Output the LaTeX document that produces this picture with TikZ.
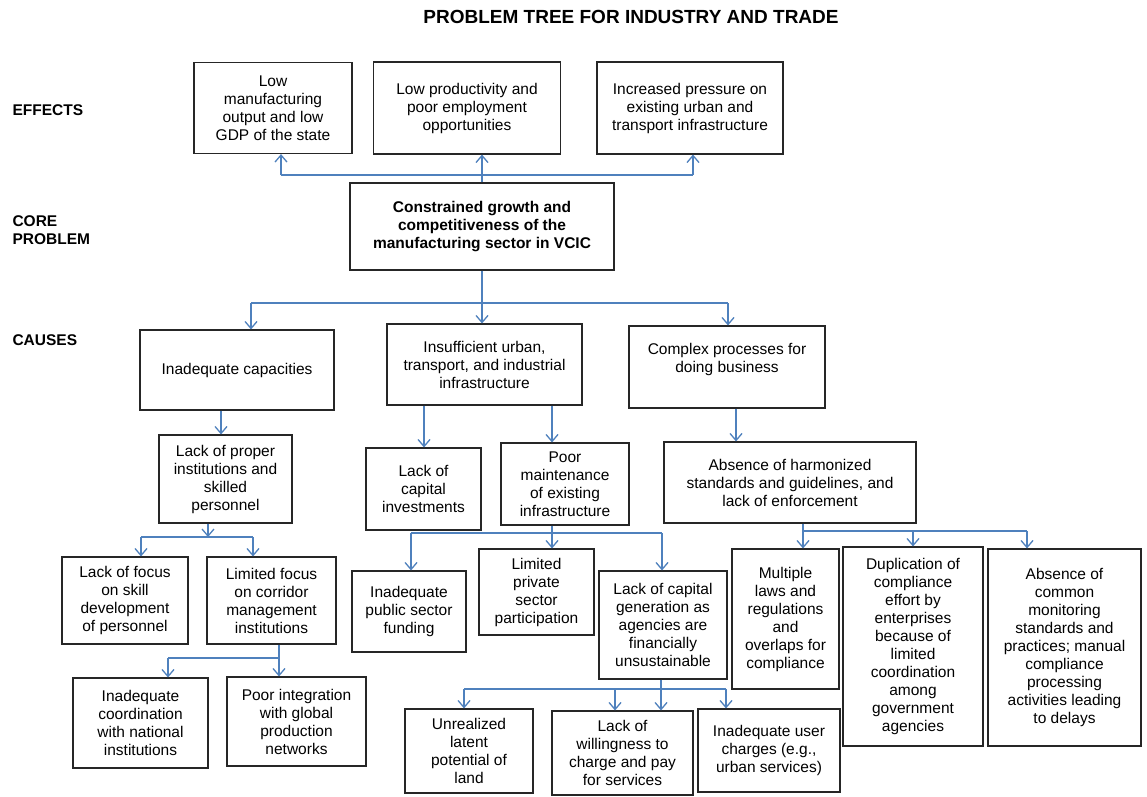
\documentclass[tikz,border=0pt]{standalone}
\usepackage{fontspec}
\setmainfont{Liberation Sans}
\usepackage{xcolor}
\usetikzlibrary{
    positioning,
    arrows.meta
}
\definecolor{linkBlue}{RGB}{79, 129, 189}

\begin{document}
\begin{tikzpicture}[x=1pt, y=-1pt, >={Straight Barb[length=7pt,width=12pt]},
    box/.style={draw=black!85, line width=1.1pt, align=center, inner sep=2pt,
        font=\fontsize{15.5}{18}\selectfont},
    side/.style={anchor=west, align=left, font=\fontsize{15.5}{18}\selectfont\bfseries},
    link/.style={linkBlue, line width=1.3pt},
    arr/.style={->, linkBlue, line width=1.3pt}]
            \useasboundingbox[fill=white] (0,0) rectangle (1147,796);
            
            % Titles
            \node[font=\fontsize{19}{22}\selectfont\bfseries] (title) at (631,17) {PROBLEM TREE FOR INDUSTRY AND TRADE};
            \node[side] (lbEff) at (9,110) {EFFECTS};
            \node[side] (lbCore) at (9,230) {CORE\\PROBLEM};
            \node[side] (lbCau) at (9,340) {CAUSES};
            
            % Effects
            \node[box, minimum width=158, minimum height=91] (e1) at (273,108) {Low\\manufacturing\\output and low\\GDP of the state};
            \node[box, minimum width=187, minimum height=92] (e2) at (467,108) {Low productivity and\\poor employment\\opportunities};
            \node[box, minimum width=186, minimum height=92] (e3) at (690,108) {Increased pressure on\\existing urban and\\transport infrastructure};
            
            % Core problem
            \node[box, minimum width=264, minimum height=87, font=\fontsize{15.5}{18}\selectfont\bfseries] (core) at (482,226.5) {Constrained growth and\\competitiveness of the\\manufacturing sector in VCIC};
            
            % Causes
            \node[box, minimum width=194, minimum height=80] (c1) at (237,370) {Inadequate capacities};
            \node[box, minimum width=195, minimum height=81] (c2) at (484.5,364.5) {Insufficient urban,\\transport, and industrial\\infrastructure};
            \node[box, minimum width=196, minimum height=82] (c3) at (727,367) {Complex processes for\\doing business\\};
            
            \node[box, minimum width=133, minimum height=88] (l1) at (225.5,479) {Lack of proper\\institutions and\\skilled\\personnel};
            \node[box, minimum width=115, minimum height=82] (lci) at (423.5,489) {Lack of\\capital\\investments};
            \node[box, minimum width=128, minimum height=82] (pm) at (565,484) {Poor\\maintenance\\of existing\\infrastructure};
            \node[box, minimum width=252, minimum height=81] (ah) at (790,482.5) {Absence of harmonized\\standards and guidelines, and\\lack of enforcement};
            
            \node[box, minimum width=126, minimum height=87] (lf1) at (125,600.5) {Lack of focus\\on skill\\development\\of personnel};
            \node[box, minimum width=129, minimum height=87] (lf2) at (271.5,600.5) {Limited focus\\on corridor\\management\\institutions};
            \node[box, minimum width=114, minimum height=81] (ipf) at (409,611.5) {Inadequate\\public sector\\funding};
            \node[box, minimum width=115, minimum height=86] (lpp) at (536.5,592) {Limited\\private\\sector\\participation};
            \node[box, minimum width=128, minimum height=108] (lcg) at (663,625) {Lack of capital\\generation as\\agencies are\\financially\\unsustainable};
            \node[box, minimum width=107, minimum height=140] (ml) at (785.5,619) {Multiple\\laws and\\regulations\\and\\overlaps for\\compliance};
            \node[box, minimum width=140, minimum height=199] (dup) at (913,646.5) {Duplication of\\compliance\\effort by\\enterprises\\because of\\limited\\coordination\\among\\government\\agencies};
            \node[box, minimum width=153, minimum height=197] (acm) at (1064.5,647.5) {Absence of\\common\\monitoring\\standards and\\practices; manual\\compliance\\processing\\activities leading\\to delays};
            
            \node[box, minimum width=135, minimum height=90] (ic) at (140.5,723) {Inadequate\\coordination\\with national\\institutions};
            \node[box, minimum width=139, minimum height=89] (pi) at (296.5,721.5) {Poor integration\\with global\\production\\networks};
            \node[box, minimum width=128, minimum height=84] (ul) at (469,751) {Unrealized\\latent\\potential of\\land};
            \node[box, minimum width=141, minimum height=84] (lw) at (622.5,753) {Lack of\\willingness to\\charge and pay\\for services};
            \node[box, minimum width=142, minimum height=83] (iu) at (769,750.5) {Inadequate user\\charges (e.g.,\\urban services)};
            
            % Core to effects
            \coordinate (effL) at (281,175);
            \coordinate (effR) at (693,175);
            \draw[link] (core.north) |- (effL);
            \draw[link] (core.north) |- (effR);
            \draw[arr] (effL) -- (effL |- e1.south);
            \draw[arr] (core.north |- effL) -- (core.north |- e2.south);
            \draw[arr] (effR) -- (effR |- e3.south);
            
            % Core to causes
            \coordinate (cauL) at (251,303);
            \coordinate (cauR) at (728,303);
            \draw[link] (core.south) |- (cauL);
            \draw[link] (core.south) |- (cauR);
            \draw[arr] (cauL) -- (cauL |- c1.north);
            \draw[arr] (core.south |- cauL) -- (core.south |- c2.north);
            \draw[arr] (cauR) -- (cauR |- c3.north);
            
            % Second level
            \coordinate (c1a) at (221,420);
            \coordinate (c2a) at (424,420);
            \coordinate (c2b) at (552,420);
            \coordinate (c3a) at (736,420);
            \draw[arr] (c1a |- c1.south) -- (c1a |- l1.north);
            \draw[arr] (c2a |- c2.south) -- (c2a |- lci.north);
            \draw[arr] (c2b |- c2.south) -- (c2b |- pm.north);
            \draw[arr] (c3a |- c3.south) -- (c3a |- ah.north);
            
            % Capacities branch
            \coordinate (lb) at (208,537);
            \coordinate (lbL) at (141,537);
            \coordinate (lbR) at (253,537);
            \draw[arr] (lb |- l1.south) -- (lb);
            \draw[link] (lbL) -- (lbR);
            \draw[arr] (lbL) -- (lbL |- lf1.north);
            \draw[arr] (lbR) -- (lbR |- lf2.north);
            
            \coordinate (fb) at (279,658);
            \coordinate (fbL) at (168,658);
            \draw[arr] (fb |- lf2.south) -- (fb |- pi.north);
            \draw[link] (fb) -- (fbL);
            \draw[arr] (fbL) -- (fbL |- ic.north);
            
            % Infrastructure branch
            \coordinate (mb) at (552,533);
            \coordinate (mbL) at (411,533);
            \coordinate (mbR) at (662,533);
            \draw[arr] (mb |- pm.south) -- (mb |- lpp.north);
            \draw[link] (mbL) -- (mbR);
            \draw[arr] (mbL) -- (mbL |- ipf.north);
            \draw[arr] (mbR) -- (mbR |- lcg.north);
            
            \coordinate (gb) at (661,689);
            \coordinate (gbL) at (464,689);
            \coordinate (gbM) at (615,689);
            \coordinate (gbR) at (726,689);
            \draw[arr] (gb |- lcg.south) -- (gb |- lw.north);
            \draw[link] (gbL) -- (gbR);
            \draw[arr] (gbL) -- (gbL |- ul.north);
            \draw[arr] (gbM) -- (gbM |- lw.north);
            \draw[arr] (gbR) -- (gbR |- iu.north);
            
            % Business branch
            \coordinate (hb) at (803,531);
            \coordinate (hbM) at (913,531);
            \coordinate (hbR) at (1027,531);
            \draw[arr] (hb |- ah.south) -- (hb |- ml.north);
            \draw[link] (hb) -- (hbR);
            \draw[arr] (hbM) -- (hbM |- dup.north);
            \draw[arr] (hbR) -- (hbR |- acm.north);
        \end{tikzpicture}
\end{document}
